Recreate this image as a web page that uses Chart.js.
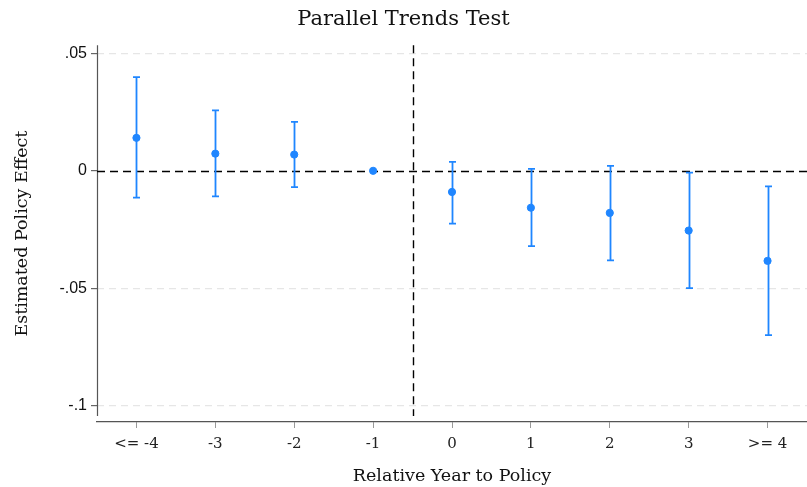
<!DOCTYPE html>
<html>
<head>
<meta charset="utf-8">
<script src="https://cdn.jsdelivr.net/npm/chart.js@4/dist/chart.umd.min.js"></script>
<style>
  html, body { margin: 0; padding: 0; background: #fff; overflow: hidden; }
</style>
</head>
<body>
<canvas id="trendChart" width="807" height="487"></canvas>
<script>
// 資料
const relYear = [-4, -3, -2, -1, 0, 1, 2, 3, 4];
const tickLabels = ["<= -4", "-3", "-2", "-1", "0", "1", "2", "3", ">= 4"];
const coef = [0.0140, 0.0073, 0.0069, 0.0000, -0.0090, -0.0157, -0.0179, -0.0254, -0.0383];
const ciUpper = [0.0398, 0.0257, 0.0208, 0.0000, 0.0038, 0.0008, 0.0021, -0.0008, -0.0066];
const ciLower = [-0.0114, -0.0109, -0.0069, 0.0000, -0.0225, -0.0320, -0.0381, -0.0499, -0.0699];
const yTicks = [-0.1, -0.05, 0, 0.05];
const policyLine = -0.5;

const blue = "#1f86ff";
const serif = "'DejaVu Serif', serif";
const sans = "'Liberation Sans', Arial, sans-serif";

function fmtTick(v) {
    if (Math.abs(v) < 1e-9) return "0";
    let s = String(+v.toFixed(3));
    return s.replace("0.", ".");
}

// 誤差線、參考線與 y 軸線
const overlay = {
    id: "overlay",
    beforeDatasetsDraw(chart) {
        const { ctx, chartArea, scales } = chart;
        const x = scales.x, y = scales.y;
        ctx.save();
        // y 軸線（底部留空）
        ctx.strokeStyle = "#555";
        ctx.lineWidth = 1.2;
        ctx.beginPath();
        ctx.moveTo(chartArea.left + 0.5, chartArea.top);
        ctx.lineTo(chartArea.left + 0.5, chartArea.bottom - 6);
        ctx.stroke();
        // 0 水平虛線
        ctx.strokeStyle = "#000";
        ctx.lineWidth = 1.4;
        ctx.setLineDash([8, 5]);
        const y0 = Math.round(y.getPixelForValue(0)) + 0.5;
        ctx.beginPath();
        ctx.moveTo(chartArea.left, y0);
        ctx.lineTo(chartArea.right, y0);
        ctx.stroke();
        // 政策年垂直虛線
        const xp = Math.round(x.getPixelForValue(policyLine)) + 0.5;
        ctx.beginPath();
        ctx.moveTo(xp, chartArea.top);
        ctx.lineTo(xp, chartArea.bottom - 6);
        ctx.stroke();
        ctx.setLineDash([]);
        // 信賴區間
        ctx.strokeStyle = blue;
        ctx.lineWidth = 1.8;
        relYear.forEach((r, i) => {
            const px = Math.round(x.getPixelForValue(r)) + 0.5;
            const yu = y.getPixelForValue(ciUpper[i]);
            const yl = y.getPixelForValue(ciLower[i]);
            if (Math.abs(yl - yu) < 1) return;
            ctx.beginPath();
            ctx.moveTo(px, yu);
            ctx.lineTo(px, yl);
            ctx.moveTo(px - 3.5, yu);
            ctx.lineTo(px + 3.5, yu);
            ctx.moveTo(px - 3.5, yl);
            ctx.lineTo(px + 3.5, yl);
            ctx.stroke();
        });
        ctx.restore();
    }
};

const chart = new Chart(document.getElementById("trendChart"), {
    type: "scatter",
    data: {
        datasets: [{
            data: relYear.map((r, i) => ({ x: r, y: coef[i] })),
            backgroundColor: blue,
            borderColor: blue,
            pointRadius: 3.6,
            pointHoverRadius: 3.6
        }]
    },
    options: {
        responsive: false,
        animation: false,
        devicePixelRatio: 1,
        layout: { padding: 0, autoPadding: false },
        plugins: {
            legend: { display: false },
            tooltip: { enabled: false },
            title: {
                display: true,
                text: "Parallel Trends Test",
                color: "#111",
                font: { family: serif, size: 21, weight: "normal" },
                padding: { top: 7, bottom: 13 }
            }
        },
        scales: {
            x: {
                type: "linear",
                min: -4.5,
                max: 4.5,
                afterBuildTicks: s => { s.ticks = relYear.map(v => ({ value: v })); },
                afterFit: s => { s.height = 65; },
                ticks: {
                    autoSkip: false,
                    maxRotation: 0,
                    padding: 7,
                    color: "#222",
                    font: { family: serif, size: 15 },
                    callback: v => tickLabels[relYear.indexOf(v)]
                },
                grid: { drawOnChartArea: false, tickLength: 6, color: "#999" },
                border: { display: true, color: "#555", width: 1.2 },
                title: {
                    display: true,
                    text: "Relative Year to Policy",
                    color: "#111",
                    font: { family: serif, size: 17.5 },
                    padding: { top: 17, bottom: 0 }
                }
            },
            y: {
                min: -0.1068,
                max: 0.0534,
                afterBuildTicks: s => { s.ticks = yTicks.map(v => ({ value: v })); },
                afterFit: s => { s.width = 97; },
                ticks: {
                    padding: 4,
                    color: "#111",
                    font: { family: sans, size: 16 },
                    callback: v => fmtTick(v)
                },
                grid: {
                    color: ctx => (ctx.tick && ctx.tick.value === 0) ? "rgba(0,0,0,0)" : "#e6e6e6",
                    lineWidth: 1.2,
                    tickColor: "#666",
                    tickLength: 6,
                    drawTicks: true
                },
                border: { display: false, dash: [7, 5] },
                title: {
                    display: true,
                    text: "Estimated Policy Effect",
                    color: "#111",
                    font: { family: serif, size: 17.5 },
                    padding: { top: 12, bottom: 6 }
                }
            }
        }
    },
    plugins: [overlay]
});
</script>
</body>
</html>
